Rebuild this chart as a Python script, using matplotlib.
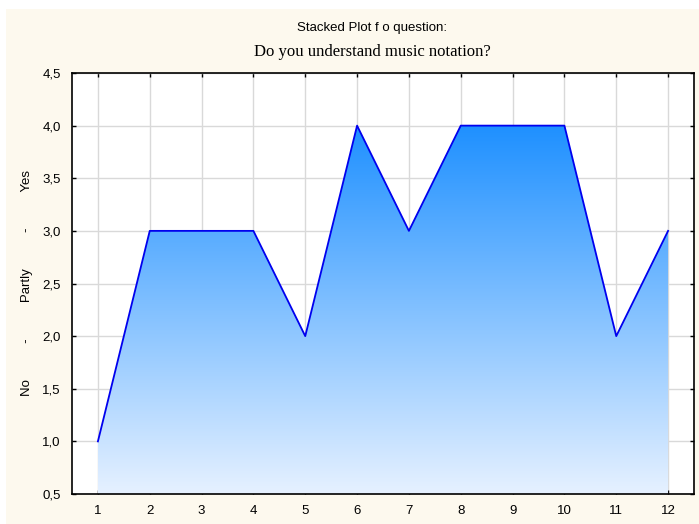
import numpy as np
import matplotlib
matplotlib.use("Agg")
import matplotlib.pyplot as plt
from matplotlib.patches import Rectangle
from matplotlib.colors import LinearSegmentedColormap

# data
questions = [1, 2, 3, 4, 5, 6, 7, 8, 9, 10, 11, 12]
answers = [1, 3, 3, 3, 2, 4, 3, 4, 4, 4, 2, 3]
y_ticks = [0.5, 1.0, 1.5, 2.0, 2.5, 3.0, 3.5, 4.0, 4.5]
y_tick_labels = ["0,5", "1,0", "1,5", "2,0", "2,5", "3,0", "3,5", "4,0", "4,5"]
title_top = "Stacked Plot f o question:"
title_main = "Do you understand music notation?"
y_label = "No          -          Partly          -          Yes"

plt.rcParams["font.family"] = ["Liberation Sans", "DejaVu Sans"]

fig = plt.figure(figsize=(6.99, 5.24), dpi=100)
fig.patch.set_facecolor("white")
fig.patches.append(Rectangle((6 / 699, 0), 1 - 6 / 699, 1 - 9 / 524,
                             transform=fig.transFigure, facecolor="#fdf9ee",
                             edgecolor="none", zorder=-10))

ax = fig.add_axes([72 / 699, 30 / 524, (694 - 72) / 699, (494 - 73) / 524])
ax.set_facecolor("white")

ymin = y_ticks[0]
ytop = max(answers)

# gradient fill clipped to the area under the line
poly = ax.fill_between(questions, answers, ymin, facecolor="none", edgecolor="none")
cmap = LinearSegmentedColormap.from_list("blue_fade", ["#e6f1ff", "#1e90ff"])
grad = np.linspace(0, 1, 256).reshape(-1, 1)
img = ax.imshow(grad, cmap=cmap, aspect="auto", origin="lower",
                extent=[questions[0], questions[-1], ymin, ytop], zorder=2)
img.set_clip_path(poly.get_paths()[0], transform=ax.transData)

ax.plot(questions, answers, color="#0000ee", linewidth=1.3, zorder=3)

ax.set_xlim(0.5, 12.5)
ax.set_ylim(ymin, y_ticks[-1])
ax.set_xticks(questions)
ax.set_yticks(y_ticks)
ax.set_yticklabels(y_tick_labels)
ax.tick_params(direction="in", length=3, width=1, labelsize=9.5,
               top=True, right=True, pad=8, colors="black")
ax.grid(True, color="#d9d9d9", linewidth=1, zorder=0)
ax.set_axisbelow(True)
for s in ax.spines.values():
    s.set_linewidth(1.2)
    s.set_color("black")

ax.set_ylabel(y_label, fontsize=9.5, labelpad=7)

fig.text(372 / 699, 1 - 28 / 524, title_top, ha="center", va="center", fontsize=9.5)
fig.text(372 / 699, 1 - 52 / 524, title_main, ha="center", va="center", fontsize=12,
         family=["Liberation Serif", "DejaVu Serif"])

fig.savefig("out.png", dpi=100)
